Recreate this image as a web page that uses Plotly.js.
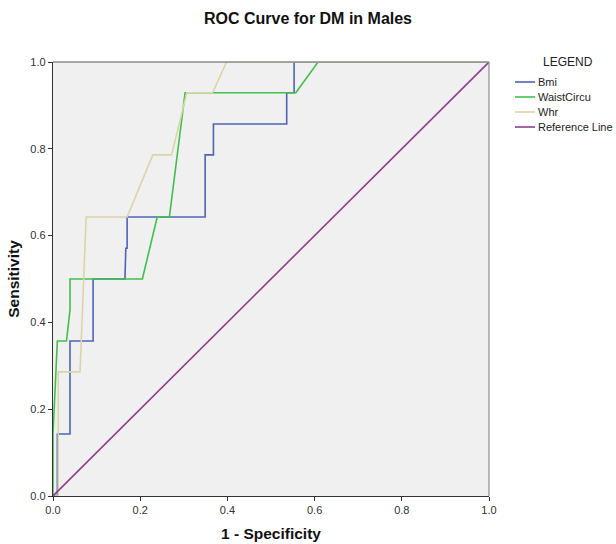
<!DOCTYPE html>
<html>
<head>
<meta charset="utf-8">
<script src="https://cdn.plot.ly/plotly-3.0.1.min.js"></script>
<style>html,body{margin:0;padding:0;background:#fff;}#chart{width:616px;height:544px;}</style>
</head>
<body>
<div id="chart"></div>
<script>
// Data
var seriesNames = ["Bmi", "WaistCircu", "Whr", "Reference Line"];
var bmiX = [0, 0.01, 0.01, 0.039, 0.039, 0.092, 0.092, 0.165, 0.167, 0.170, 0.170, 0.349, 0.349, 0.368, 0.368, 0.536, 0.536, 0.553, 0.553, 1.0];
var bmiY = [0, 0, 0.143, 0.143, 0.357, 0.357, 0.5, 0.5, 0.571, 0.571, 0.643, 0.643, 0.786, 0.786, 0.857, 0.857, 0.929, 0.929, 1.0, 1.0];
var waistX = [0, 0, 0.01, 0.031, 0.039, 0.039, 0.205, 0.239, 0.267, 0.303, 0.557, 0.608, 1.0];
var waistY = [0, 0.143, 0.357, 0.357, 0.429, 0.5, 0.5, 0.643, 0.643, 0.929, 0.929, 1.0, 1.0];
var whrX = [0, 0.012, 0.012, 0.062, 0.076, 0.170, 0.229, 0.272, 0.307, 0.366, 0.398, 1.0];
var whrY = [0, 0, 0.286, 0.286, 0.643, 0.643, 0.786, 0.786, 0.929, 0.929, 1.0, 1.0];
var refX = [0, 1];
var refY = [0, 1];
var tickVals = [0, 0.2, 0.4, 0.6, 0.8, 1.0];
var tickText = ["0.0", "0.2", "0.4", "0.6", "0.8", "1.0"];

var colors = ["#4f63b8", "#3fc04c", "#dad5a8", "#8e3f90"];
var xs = [bmiX, waistX, whrX, refX];
var ys = [bmiY, waistY, whrY, refY];

var FONT = "Liberation Sans, Arial, sans-serif";
var traces = [];
for (var i = 0; i < seriesNames.length; i++) {
  traces.push({
    type: "scatter", mode: "lines", name: seriesNames[i],
    x: xs[i], y: ys[i],
    line: {color: colors[i], width: 1.6},
    showlegend: false, hoverinfo: "skip"
  });
}

// Legend drawn as shapes + annotations (paper coords relative to plot area)
var L = 53, R = 489, T = 62, B = 496;
function px2x(p){ return (p - L) / (R - L); }
function py2y(p){ return (B - p) / (B - T); }
var shapes = [
  {type: "line", xref: "paper", yref: "paper", x0: 0, x1: 1, y0: 1, y1: 1, line: {color: "#8c8c8c", width: 1.5}},
  {type: "line", xref: "paper", yref: "paper", x0: 1, x1: 1, y0: 0, y1: 1, line: {color: "#8c8c8c", width: 1.2}}
];
var annotations = [
  {xref: "paper", yref: "paper", x: px2x(568), y: py2y(62), text: "LEGEND", showarrow: false,
   xanchor: "center", yanchor: "middle", font: {family: FONT, size: 12, color: "#222"}}
];
var rowY = [82, 97, 112, 127];
for (var j = 0; j < seriesNames.length; j++) {
  shapes.push({type: "line", xref: "paper", yref: "paper",
    x0: px2x(515), x1: px2x(535), y0: py2y(rowY[j]), y1: py2y(rowY[j]),
    line: {color: colors[j], width: 1.6}});
  annotations.push({xref: "paper", yref: "paper", x: px2x(536), y: py2y(rowY[j]),
    text: seriesNames[j], showarrow: false, xanchor: "left", yanchor: "middle",
    font: {family: FONT, size: 11, color: "#222"}});
}

var layout = {
  width: 616, height: 544,
  margin: {l: L, r: 616 - R, t: T, b: 544 - B, pad: 0},
  paper_bgcolor: "#ffffff",
  plot_bgcolor: "#f0f0f0",
  showlegend: false,
  title: {text: "<b>ROC Curve for DM in Males</b>", x: 0.5, xref: "container", xanchor: "center",
          y: 1 - 18 / 544, yref: "container", yanchor: "middle",
          font: {family: FONT, size: 16, color: "#111"}},
  xaxis: {range: [0, 1], tickvals: tickVals, ticktext: tickText, ticks: "outside", ticklen: 4,
          tickcolor: "#333", showline: true, linecolor: "#333", linewidth: 1.2, showgrid: false,
          zeroline: false, automargin: false, fixedrange: true,
          tickfont: {family: FONT, size: 11, color: "#333"},
          title: {text: "<b>1 - Specificity</b>", standoff: 12, font: {family: FONT, size: 15.5, color: "#111"}}},
  yaxis: {range: [0, 1], tickvals: tickVals, ticktext: tickText, ticks: "outside", ticklen: 4,
          tickcolor: "#333", showline: true, linecolor: "#333", linewidth: 1.2, showgrid: false,
          zeroline: false, automargin: false, fixedrange: true,
          tickfont: {family: FONT, size: 11, color: "#333"},
          title: {text: "<b>Sensitivity</b>", standoff: 6, font: {family: FONT, size: 15.5, color: "#111"}}},
  shapes: shapes,
  annotations: annotations
};

Plotly.newPlot("chart", traces, layout, {displayModeBar: false, staticPlot: true});
</script>
</body>
</html>
